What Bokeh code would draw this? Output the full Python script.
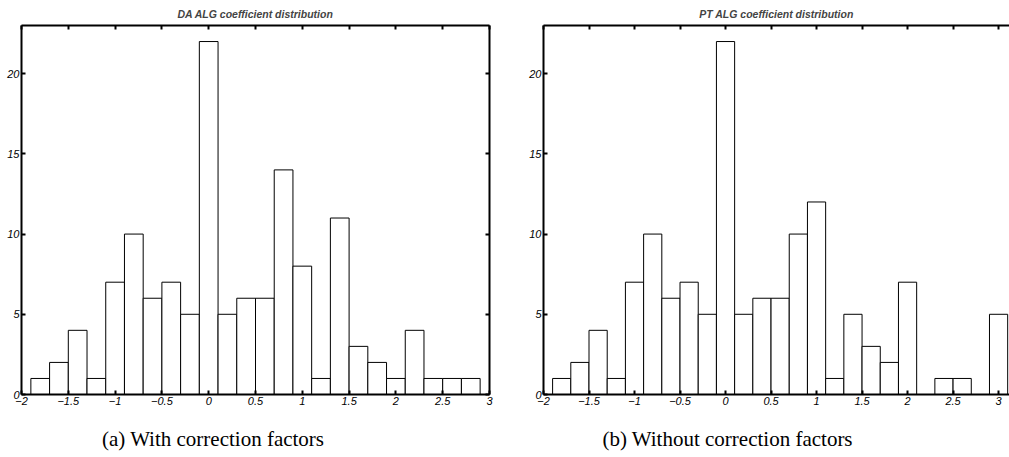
from bokeh.plotting import figure
from bokeh.models import LinearAxis, FixedTicker, Range1d, Div, ColumnDataSource
from bokeh.layouts import row, column
from bokeh.embed import file_html
from bokeh.resources import INLINE

# ---- data ----
da_centers = [-1.8, -1.6, -1.4, -1.2, -1.0, -0.8, -0.6, -0.4, -0.2, 0.0, 0.2, 0.4,
              0.6, 0.8, 1.0, 1.2, 1.4, 1.6, 1.8, 2.0, 2.2, 2.4, 2.6, 2.8]
da_counts = [1, 2, 4, 1, 7, 10, 6, 7, 5, 22, 5, 6, 6, 14, 8, 1, 11, 3, 2, 1, 4, 1, 1, 1]

pt_centers = [-1.8, -1.6, -1.4, -1.2, -1.0, -0.8, -0.6, -0.4, -0.2, 0.0, 0.2, 0.4,
              0.6, 0.8, 1.0, 1.2, 1.4, 1.6, 1.8, 2.0, 2.2, 2.4, 2.6, 2.8, 3.0]
pt_counts = [1, 2, 4, 1, 7, 10, 6, 7, 5, 22, 5, 6, 6, 10, 12, 1, 5, 3, 2, 7, 0, 1, 1, 0, 5]

bin_width = 0.2

x_ticks = [-2, -1.5, -1, -0.5, 0, 0.5, 1, 1.5, 2, 2.5, 3]
x_tick_labels = ["\u22122", "\u22121.5", "\u22121", "\u22120.5", "0", "0.5", "1", "1.5", "2", "2.5", "3"]
y_ticks = [0, 5, 10, 15, 20]
y_tick_labels = ["0", "5", "10", "15", "20"]

titles = ["DA ALG coefficient distribution", "PT ALG coefficient distribution"]
captions = ["(a) With correction factors", "(b) Without correction factors"]

LABEL_FONT = "Liberation Sans"


def style_axis(ax, ticks, labels, show_labels=True):
    ax.ticker = FixedTicker(ticks=ticks)
    ax.major_label_overrides = {t: l for t, l in zip(ticks, labels)}
    ax.axis_line_width = 2
    ax.axis_line_color = "black"
    ax.major_tick_in = 4
    ax.major_tick_out = 0
    ax.major_tick_line_width = 2
    ax.major_tick_line_color = "black"
    ax.minor_tick_line_color = None
    ax.major_label_text_font = LABEL_FONT
    ax.major_label_text_font_style = "italic"
    if show_labels:
        ax.major_label_text_color = "black"
        ax.major_label_text_font_size = "11px"
        ax.major_label_standoff = 2
    else:
        ax.major_label_text_color = None
        ax.major_label_text_font_size = "1px"
        ax.major_label_standoff = 0


def make_panel(centers, counts, title, x_end, width, min_left, min_right, with_right):
    src = ColumnDataSource(dict(
        left=[c - bin_width / 2 for c in centers],
        right=[c + bin_width / 2 for c in centers],
        top=counts,
    ))
    p = figure(width=width, height=416, output_backend="svg", toolbar_location=None,
               x_range=Range1d(-2, x_end), y_range=Range1d(0, 23),
               min_border_left=min_left, min_border_right=min_right,
               min_border_top=24, min_border_bottom=22)
    p.title.text = title
    p.title.text_font = LABEL_FONT
    p.title.text_font_size = "10.5px"
    p.title.text_font_style = "bold italic"
    p.title.align = "center"
    p.title.standoff = 11
    p.title.offset = 0
    p.grid.visible = False
    p.outline_line_color = None
    p.background_fill_color = "white"
    p.border_fill_color = "white"

    p.quad(left="left", right="right", top="top", bottom=0, source=src,
           fill_color="white", line_color="black", line_width=1)

    style_axis(p.xaxis[0], x_ticks, x_tick_labels)
    style_axis(p.yaxis[0], y_ticks, y_tick_labels)

    top_ax = LinearAxis()
    style_axis(top_ax, x_ticks, x_tick_labels, show_labels=False)
    p.add_layout(top_ax, "above")
    if with_right:
        right_ax = LinearAxis()
        style_axis(right_ax, y_ticks, y_tick_labels, show_labels=False)
        p.add_layout(right_ax, "right")
    return p


p1 = make_panel(da_centers, da_counts, titles[0], 3, 500, 21, 11, True)
p2 = make_panel(pt_centers, pt_counts, titles[1], 3.12, 509, 43, 0, False)

cap_css = ("font-family:'Liberation Serif',serif;font-size:21px;line-height:21px;"
           "color:black;text-align:center;margin-top:8px;white-space:nowrap;")
d1 = Div(text='<div style="%swidth:416px;">%s</div>' % (cap_css, captions[0]),
         width=416, height=33)
d2 = Div(text='<div style="%swidth:593px;">%s</div>' % (cap_css, captions[1]),
         width=593, height=33)

layout = column(row(p1, p2), row(d1, d2))

with open("out.html", "w") as f:
    f.write(file_html(layout, INLINE))
